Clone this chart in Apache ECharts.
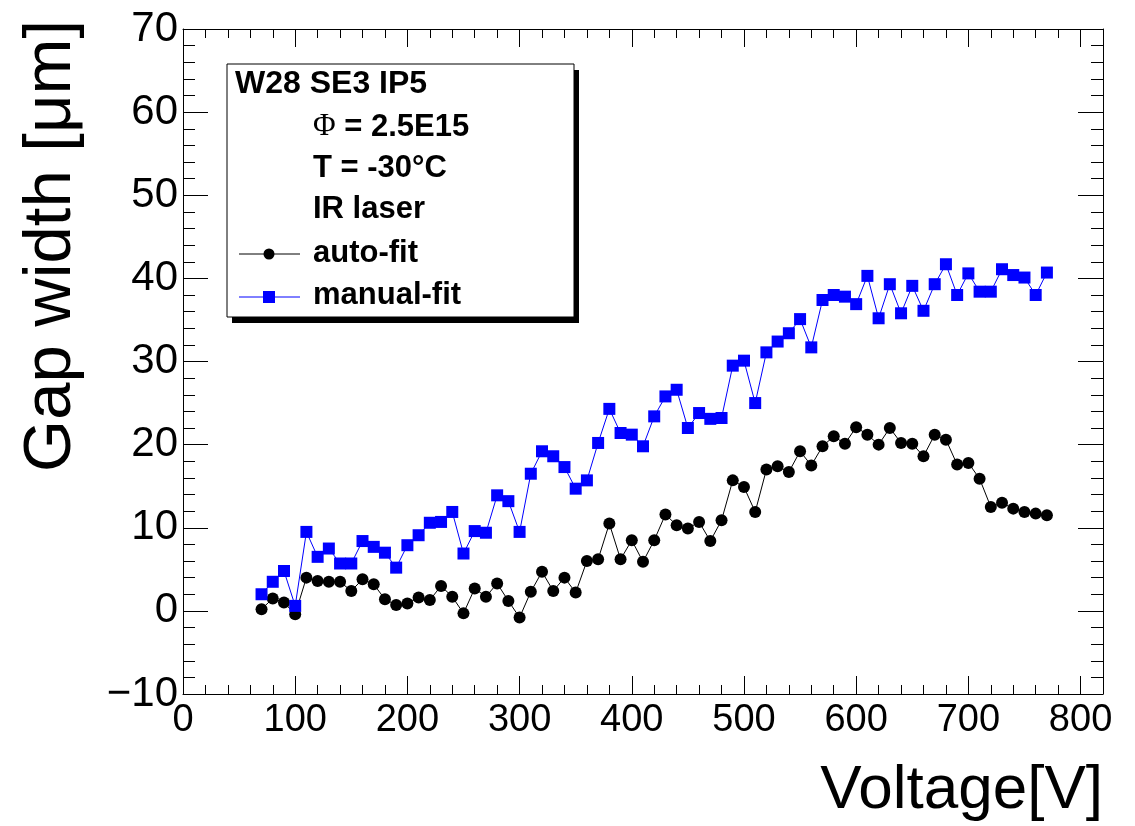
<!DOCTYPE html>
<html>
<head>
<meta charset="utf-8">
<script src="https://cdn.jsdelivr.net/npm/echarts@6/dist/echarts.min.js"></script>
<style>
  html, body { margin: 0; padding: 0; background: #fff; }
  #chart { width: 1135px; height: 826px; }
</style>
</head>
<body>
<div id="chart"></div>
<script>
// ---- data ----
const voltages = [70, 80, 90, 100, 110, 120, 130, 140, 150, 160, 170, 180, 190, 200, 210, 220, 230, 240, 250, 260,
  270, 280, 290, 300, 310, 320, 330, 340, 350, 360, 370, 380, 390, 400, 410, 420, 430, 440, 450, 460,
  470, 480, 490, 500, 510, 520, 530, 540, 550, 560, 570, 580, 590, 600, 610, 620, 630, 640, 650, 660,
  670, 680, 690, 700, 710, 720, 730, 740, 750, 760, 770];
const autoFit = [0.2, 1.5, 1.0, -0.4, 4.0, 3.6, 3.5, 3.5, 2.4, 3.8, 3.2, 1.4, 0.7, 0.9, 1.6, 1.3, 3.0, 1.7, -0.3, 2.7,
  1.7, 3.3, 1.2, -0.8, 2.3, 4.7, 2.4, 4.0, 2.2, 6.0, 6.2, 10.5, 6.2, 8.5, 5.9, 8.5, 11.6, 10.3, 9.9, 10.7,
  8.4, 10.9, 15.7, 14.9, 11.9, 17.0, 17.4, 16.7, 19.2, 17.5, 19.8, 21.0, 20.1, 22.1, 21.2, 20.0, 22.0, 20.2, 20.1, 18.6,
  21.2, 20.6, 17.6, 17.8, 15.9, 12.5, 13.0, 12.3, 11.9, 11.7, 11.5];
const manualFit = [2.0, 3.5, 4.8, 0.6, 9.5, 6.5, 7.5, 5.7, 5.7, 8.4, 7.7, 7.0, 5.2, 7.9, 9.1, 10.6, 10.7, 11.9, 6.9, 9.6,
  9.4, 13.9, 13.2, 9.5, 16.5, 19.2, 18.6, 17.3, 14.7, 15.7, 20.2, 24.3, 21.4, 21.2, 19.8, 23.4, 25.8, 26.6, 22.0, 23.8,
  23.1, 23.2, 29.5, 30.1, 25.0, 31.1, 32.4, 33.4, 35.1, 31.7, 37.4, 38.0, 37.8, 36.9, 40.3, 35.2, 39.3, 35.8, 39.1, 36.1,
  39.3, 41.7, 38.0, 40.6, 38.4, 38.4, 41.1, 40.4, 40.1, 38.0, 40.7];
const seriesNames = ['auto-fit', 'manual-fit'];
const legendHeader = ['W28 SE3 IP5', '2.5E15', 'T = -30°C', 'IR laser'];
const xTitle = 'Voltage[V]';
const yTitle = 'Gap width [μm]';

// ---- chart ----
const FONT = 'Liberation Sans, Arial, Helvetica, sans-serif';
const chart = echarts.init(document.getElementById('chart'), null, { renderer: 'canvas' });

function xAxisCfg(pos, interval, tickLen, showLine, showLabel) {
  return {
    type: 'value', position: pos, min: 0, max: 820, interval: interval,
    axisLine: { show: showLine, onZero: false, lineStyle: { color: '#000', width: 1 } },
    axisTick: { show: true, inside: true, length: tickLen, lineStyle: { color: '#000', width: 1 } },
    axisLabel: {
      show: showLabel, color: '#000', fontSize: 38, fontFamily: FONT, margin: 8,
      formatter: v => (v % 100 === 0 && v <= 800) ? String(v) : ''
    },
    splitLine: { show: false }
  };
}
function yAxisCfg(pos, showLabel) {
  return {
    type: 'value', position: pos, min: -10, max: 70, interval: 10,
    axisLine: { show: true, onZero: false, lineStyle: { color: '#000', width: 1 } },
    axisTick: { show: true, inside: true, length: 25, lineStyle: { color: '#000', width: 1 } },
    minorTick: { show: true, splitNumber: 5, length: 12, lineStyle: { color: '#000', width: 1 } },
    axisLabel: {
      show: showLabel, color: '#000', fontSize: 42, fontFamily: FONT, margin: 5,
      formatter: v => String(v).replace('-', '\u2212')
    },
    splitLine: { show: false }
  };
}

const option = {
  backgroundColor: '#fff',
  animation: false,
  grid: { left: 183, top: 29, width: 920, height: 665, containLabel: false },
  xAxis: [
    xAxisCfg('bottom', 20, 9, true, true),
    xAxisCfg('bottom', 100, 18, false, false),
    xAxisCfg('top', 20, 9, true, false),
    xAxisCfg('top', 100, 18, false, false)
  ],
  yAxis: [yAxisCfg('left', true), yAxisCfg('right', false)],
  series: [
    {
      name: seriesNames[0], type: 'line', xAxisIndex: 0, yAxisIndex: 0,
      data: voltages.map((v, i) => [v, autoFit[i]]),
      symbol: 'circle', symbolSize: 12, showAllSymbol: true,
      lineStyle: { color: '#000', width: 1 },
      itemStyle: { color: '#000' }, z: 3
    },
    {
      name: seriesNames[1], type: 'line', xAxisIndex: 0, yAxisIndex: 0,
      data: voltages.map((v, i) => [v, manualFit[i]]),
      symbol: 'rect', symbolSize: 12, showAllSymbol: true,
      lineStyle: { color: '#0000ff', width: 1 },
      itemStyle: { color: '#0000ff' }, z: 4
    }
  ],
  graphic: [
    // axis titles
    { type: 'text', x: 1103, y: 791, style: { text: xTitle, font: '62px ' + FONT, fill: '#000', align: 'right', verticalAlign: 'middle' } },
    { type: 'text', x: 52, y: 20, rotation: Math.PI / 2, style: { text: yTitle, font: '67px ' + FONT, fill: '#000', align: 'right', verticalAlign: 'middle' } },
    // legend box
    { type: 'rect', shape: { x: 232, y: 70, width: 347, height: 253 }, style: { fill: '#000' }, z: 10 },
    { type: 'rect', shape: { x: 227, y: 64, width: 347, height: 253 }, style: { fill: '#fff', stroke: '#000', lineWidth: 1 }, z: 11 },
    { type: 'text', x: 235, y: 84, z: 12, style: { text: legendHeader[0], font: 'bold 32px ' + FONT, fill: '#000', verticalAlign: 'middle' } },
    { type: 'text', x: 313, y: 127, z: 12, style: {
        text: '{p|Φ}{b| = ' + legendHeader[1] + '}', verticalAlign: 'middle', fill: '#000',
        rich: { p: { font: '31px Liberation Serif, DejaVu Serif, serif', fill: '#000' }, b: { font: 'bold 31px ' + FONT, fill: '#000' } }
      } },
    { type: 'text', x: 313, y: 168, z: 12, style: { text: legendHeader[2], font: 'bold 31px ' + FONT, fill: '#000', verticalAlign: 'middle' } },
    { type: 'text', x: 313, y: 209, z: 12, style: { text: legendHeader[3], font: 'bold 31px ' + FONT, fill: '#000', verticalAlign: 'middle' } },
    { type: 'line', z: 12, shape: { x1: 239, y1: 254, x2: 300, y2: 254 }, style: { stroke: '#000', lineWidth: 1 } },
    { type: 'circle', z: 13, shape: { cx: 269, cy: 254, r: 5.5 }, style: { fill: '#000' } },
    { type: 'text', x: 313, y: 253, z: 12, style: { text: seriesNames[0], font: 'bold 31px ' + FONT, fill: '#000', verticalAlign: 'middle' } },
    { type: 'line', z: 12, shape: { x1: 239, y1: 297, x2: 300, y2: 297 }, style: { stroke: '#0000ff', lineWidth: 1 } },
    { type: 'rect', z: 13, shape: { x: 263, y: 291, width: 12, height: 12 }, style: { fill: '#0000ff' } },
    { type: 'text', x: 313, y: 295, z: 12, style: { text: seriesNames[1], font: 'bold 31px ' + FONT, fill: '#000', verticalAlign: 'middle' } }
  ]
};
chart.setOption(option);
</script>
</body>
</html>
